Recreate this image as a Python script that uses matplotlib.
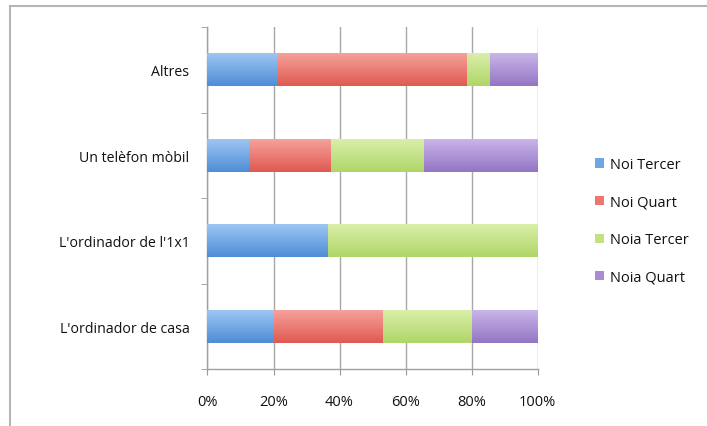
import matplotlib
matplotlib.use("Agg")
import matplotlib.pyplot as plt
import numpy as np
from matplotlib.patches import Rectangle, Patch
from matplotlib.ticker import FuncFormatter
from matplotlib.colors import to_rgb

categories = ["L'ordinador de casa", "L'ordinador de l'1x1", "Un telèfon mòbil", "Altres"]
series_names = ["Noi Tercer", "Noi Quart", "Noia Tercer", "Noia Quart"]
noi_tercer = [20.0, 36.4, 12.5, 21.4]
noi_quart = [33.3, 0.0, 25.0, 57.1]
noia_tercer = [26.7, 63.6, 28.1, 7.1]
noia_quart = [20.0, 0.0, 34.4, 14.3]
colors = ["#6ea6e6", "#ec7770", "#c3e27f", "#aa8cd4"]
colors_top = ["#9fc7f3", "#f6a39d", "#dbefab", "#cbb7ea"]
colors_bot = ["#4f8dd6", "#df5a50", "#afd668", "#9375c4"]
xticks = [0, 20, 40, 60, 80, 100]

plt.rcParams['font.family'] = ['Open Sans', 'DejaVu Sans']

fig = plt.figure(figsize=(7.07, 4.27), dpi=100)
fig.patch.set_facecolor("white")
fig.patches.append(Rectangle((10/707, -0.2), 1.2, 1.2 - 7/427, transform=fig.transFigure,
                             fill=False, edgecolor="#b5b5b5", linewidth=1.5, zorder=0))

ax = fig.add_axes([207.5/707, 1 - 370/427, (537.5 - 207.5)/707, (370 - 28)/427])
y = np.arange(len(categories))
data = [noi_tercer, noi_quart, noia_tercer, noia_quart]
left = np.zeros(len(categories))
bh = 0.39
for vals, c, ct, cb, name in zip(data, colors, colors_top, colors_bot, series_names):
    bars = ax.barh(y, vals, left=left, height=bh, color=c, label=name, zorder=3)
    grad = np.linspace(0, 1, 64)[:, None]
    rgb = (1 - grad)[..., None] * np.array(to_rgb(ct)) + grad[..., None] * np.array(to_rgb(cb))
    rgb = np.repeat(rgb, 2, axis=1)
    for b in bars:
        if b.get_width() <= 0:
            continue
        x0, y0 = b.get_x(), b.get_y()
        im = ax.imshow(rgb, extent=[x0, x0 + b.get_width(), y0, y0 + b.get_height()],
                       aspect='auto', zorder=4, interpolation='bilinear')
        im.set_clip_path(b)
    left += np.array(vals)

ax.set_xlim(0, 100)
ax.set_ylim(-0.5, len(categories) - 0.5)
ax.set_xticks(xticks)
ax.xaxis.set_major_formatter(FuncFormatter(lambda v, p: f"{int(v)}%"))
ax.set_yticks(y)
ax.set_yticklabels(categories)
ax.set_yticks(np.arange(-0.5, len(categories), 1.0), minor=True)
ax.tick_params(axis='y', which='major', length=0, pad=13, labelsize=10.2, labelcolor="#111111")
ax.tick_params(axis='y', which='minor', length=4, color="#9a9a9a", direction='out')
ax.tick_params(axis='x', which='major', length=4, color="#9a9a9a", direction='out', pad=14,
               labelsize=10.5, labelcolor="#111111")
ax.grid(axis='x', color="#a8a8a8", linewidth=1.0, zorder=0)
for s in ["top", "right"]:
    ax.spines[s].set_visible(False)
for s in ["left", "bottom"]:
    ax.spines[s].set_color("#a0a0a0")
    ax.spines[s].set_linewidth(1.0)

handles = [Patch(facecolor=c, edgecolor='none', label=n) for c, n in zip(colors, series_names)]
fig.legend(handles=handles, loc="center left", bbox_to_anchor=(582/707, 1 - 222/427),
           frameon=False, fontsize=10.5, handlelength=0.6, handleheight=0.6, handletextpad=0.4,
           labelspacing=1.55, labelcolor="#111111")

fig.savefig("out.png", dpi=100, facecolor="white")
